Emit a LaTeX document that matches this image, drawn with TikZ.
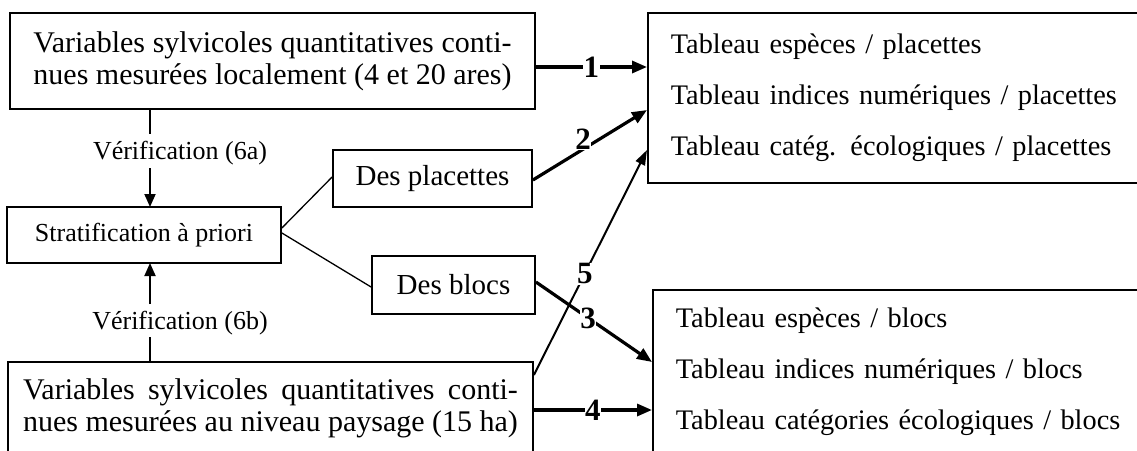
\documentclass[tikz,border=0pt]{standalone}
\usepackage{fontspec}
\setmainfont{Liberation Serif}
\usetikzlibrary{arrows.meta}
\newlength\lineTL
\newlength\lineBL
\begin{document}
\settowidth\lineTL{\fontsize{30}{32}\selectfont nues mesurées localement (4 et 20 ares)}
\settowidth\lineBL{\fontsize{30}{32}\selectfont nues mesurées au niveau paysage (15 ha)}
\begin{tikzpicture}[x=1pt,y=-1pt,
  box/.style={draw,line width=1.8pt,rectangle,inner sep=0pt},
  big/.style={font=\fontsize{30}{32}\selectfont},
  mid/.style={font=\fontsize{29}{32}\selectfont},
  small/.style={font=\fontsize{26}{29}\selectfont},
  tab/.style={font=\fontsize{28.3}{51}\selectfont},
  num/.style={font=\bfseries\fontsize{31}{31}\selectfont,fill=white,inner sep=0.5pt},
  bold arrow/.style={line width=3.2pt,-{Triangle[length=15pt,width=12pt]}},
  thin arrow/.style={line width=2pt,-{Triangle[length=15pt,width=10pt]}},
  ver arrow/.style={line width=1.8pt,-{Triangle[length=13pt,width=11pt]}},
  plain/.style={line width=1.3pt},
  stem/.style={line width=1.8pt}]
\useasboundingbox (0,0) rectangle (1137,450);
\clip (0,0) rectangle (1137,450);
% boxes
\node[box,big,minimum width=525pt,minimum height=96pt,text width=\lineTL,align=justify] (tl) at (272.5,61)
  {Variables sylvicoles quantitatives conti-\linebreak nues mesurées localement (4 et 20 ares)};
\node[box,big,minimum width=525pt,minimum height=92pt,text width=\lineBL,align=justify] (bl) at (270.5,408)
  {Variables sylvicoles quantitatives conti-\linebreak nues mesurées au niveau paysage (15 ha)};
\node[box,small,minimum width=274pt,minimum height=56pt] (st) at (144,235) {Stratification à priori};
\node[box,mid,minimum width=199pt,minimum height=57pt] (pl) at (432.5,178.5) {Des placettes};
\node[box,mid,minimum width=163pt,minimum height=58pt] (bk) at (453.5,285) {Des blocs};
\node[box,tab,anchor=north west,minimum width=520pt,minimum height=170pt,text width=474pt,inner xsep=23pt,align=left] (tr) at (647,12)
  {Tableau espèces / placettes\\Tableau indices numériques / placettes\\Tableau catég. écologiques / placettes};
\node[box,tab,anchor=north west,minimum width=520pt,minimum height=164pt,text width=474pt,inner xsep=18pt,align=left] (br) at (652,289)
  {Tableau espèces / blocs\\Tableau indices numériques / blocs\\Tableau catégories écologiques / blocs};
% verification
\node[small,inner sep=1pt] (va) at (180,153) {Vérification (6a)};
\node[small,inner sep=1pt] (vb) at (180,323) {Vérification (6b)};
\coordinate (tla) at (150,109);
\coordinate (vat) at (150,134);
\coordinate (vab) at (150,168);
\coordinate (sta) at (150,207);
\coordinate (stb) at (150,263);
\coordinate (vbt) at (150,304);
\coordinate (vbb) at (150,337);
\coordinate (bla) at (150,362);
\draw[stem] (tla) -- (vat);
\draw[ver arrow] (vab) -- (sta);
\draw[stem] (bla) -- (vbb);
\draw[ver arrow] (vbt) -- (stb);
% branches
\draw[plain] (st.east |- 0,228) -- (pl.west |- 0,177);
\draw[plain] (st.east |- 0,233) -- (bk.west |- 0,287);
% numbered arrows
\draw[bold arrow] (tl.east |- 0,67) -- node[num] (n1) {1} (tr.west |- 0,67);
\draw[bold arrow] (pl.east |- 0,180) -- node[num,pos=0.44,yshift=10pt] (n2) {2} (tr.west |- 0,110);
\draw[bold arrow] (bk.east |- 0,282) -- node[num,pos=0.45] (n3) {3} (br.west |- 0,362);
\draw[bold arrow] (bl.east |- 0,410) -- node[num] (n4) {4} (br.west |- 0,410);
\draw[thin arrow] (bl.east |- 0,375) -- node[num,pos=0.45] (n5) {5} (tr.west |- 0,150);
\end{tikzpicture}
\end{document}
